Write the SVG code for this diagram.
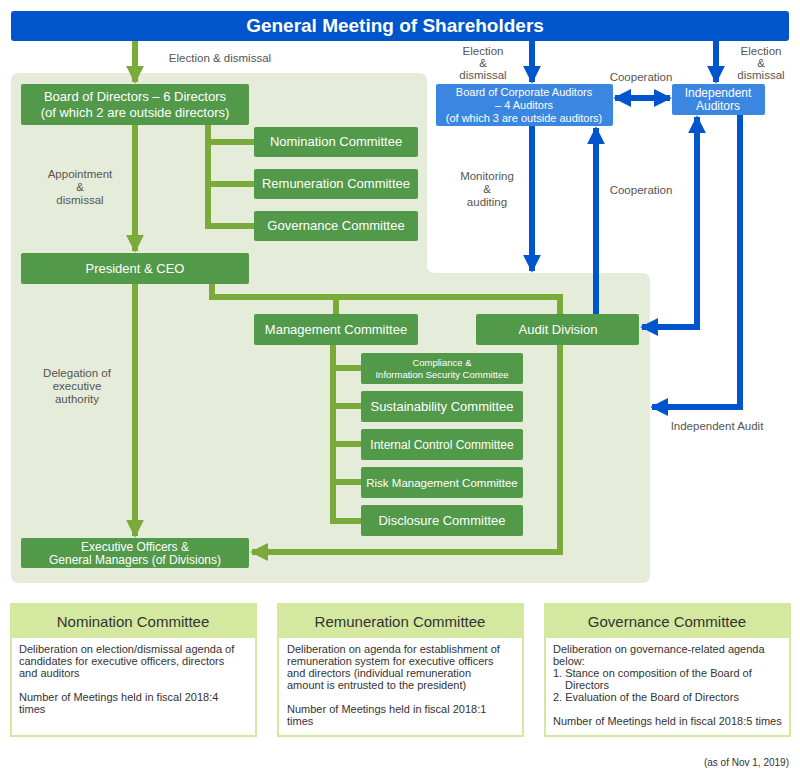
<svg xmlns="http://www.w3.org/2000/svg" width="800" height="780" viewBox="0 0 800 780">
<style>
text{font-family:"Liberation Sans",Arial,sans-serif}
.g rect{fill:#52994a}
.g text{fill:#fff;font-size:13px;text-anchor:middle}
.b rect{fill:#3b86e0}
.b text{fill:#fff;font-size:12px;text-anchor:middle}
.lbl{fill:#555;font-size:11.5px;text-anchor:middle}
.gl{stroke:#7aaa3a;stroke-width:6;fill:none}
.bl{stroke:#0055cc;stroke-width:6;fill:none}
.hd rect.h{fill:#d4e8a0}
.hd rect.o{fill:#fff;stroke:#d4e8a0;stroke-width:2}
.hd text.t{fill:#333;font-size:15px;text-anchor:middle}
.hd text.d{fill:#333;font-size:11px}
</style>
<defs>
<marker id="ga" viewBox="0 0 10 10" refX="9" refY="5" markerWidth="3" markerHeight="3" orient="auto-start-reverse"><path d="M0,0L10,5L0,10z" fill="#7aaa3a"/></marker>
<marker id="ba" viewBox="0 0 10 10" refX="9" refY="5" markerWidth="3" markerHeight="3" orient="auto-start-reverse"><path d="M0,0L10,5L0,10z" fill="#0055cc"/></marker>
</defs>
<path d="M11,81 Q11,73 19,73 L419,73 Q427,73 427,81 L427,265 Q427,273 435,273 L642,273 Q650,273 650,281 L650,575 Q650,583 642,583 L19,583 Q11,583 11,575 Z" fill="#e5ecd9"/>
<g id="gms"><rect x="11" y="11" width="778" height="30" rx="3" fill="#0055cc"/><text x="395" y="32" fill="#fff" font-size="19" font-weight="bold" text-anchor="middle">General Meeting of Shareholders</text></g>
<g id="connectors">
<path class="gl" d="M135,41V82" marker-end="url(#ga)"/>
<path class="gl" d="M135,125V251" marker-end="url(#ga)"/>
<path class="gl" d="M208,125V226H254M208,142H254M208,184H254"/>
<path class="gl" d="M212,284V297H560V314M336,297V314"/>
<path class="gl" d="M333,345V521H361M333,368H361M333,406H361M333,444H361M333,482H361"/>
<path class="gl" d="M135,284V536" marker-end="url(#ga)"/>
<path class="gl" d="M560,345V552H252" marker-end="url(#ga)"/>
<path class="bl" d="M532,41V82" marker-end="url(#ba)"/>
<path class="bl" d="M716,41V82" marker-end="url(#ba)"/>
<path class="bl" d="M532,126V271" marker-end="url(#ba)"/>
<path class="bl" d="M596,314V128" marker-end="url(#ba)"/>
<path class="bl" d="M615,98H670" marker-start="url(#ba)" marker-end="url(#ba)"/>
<path class="bl" d="M697,117V327H642" marker-start="url(#ba)" marker-end="url(#ba)"/>
<path class="bl" d="M740,115V407H652" marker-end="url(#ba)"/>
</g>
<g id="labels">
<text class="lbl" x="220" y="62">Election &amp; dismissal</text>
<text class="lbl" x="483" y="55">Election</text><text class="lbl" x="483" y="67">&amp;</text><text class="lbl" x="483" y="79">dismissal</text>
<text class="lbl" x="761" y="55">Election</text><text class="lbl" x="761" y="67">&amp;</text><text class="lbl" x="761" y="79">dismissal</text>
<text class="lbl" x="641" y="81">Cooperation</text>
<text class="lbl" x="641" y="194">Cooperation</text>
<text class="lbl" x="80" y="178">Appointment</text><text class="lbl" x="80" y="191">&amp;</text><text class="lbl" x="80" y="204">dismissal</text>
<text class="lbl" x="487" y="180">Monitoring</text><text class="lbl" x="487" y="193">&amp;</text><text class="lbl" x="487" y="206">auditing</text>
<text class="lbl" x="77" y="377">Delegation of</text><text class="lbl" x="77" y="390">executive</text><text class="lbl" x="77" y="403">authority</text>
<text class="lbl" x="717" y="430">Independent Audit</text>
</g>
<g id="bod" class="g"><rect x="21" y="84" width="228" height="41" rx="2"/><text x="135" y="101">Board of Directors – 6 Directors</text><text x="135" y="117">(of which 2 are outside directors)</text></g>
<g id="nom" class="g"><rect x="254" y="127" width="164" height="30" rx="2"/><text x="336" y="146">Nomination Committee</text></g>
<g id="rem" class="g"><rect x="254" y="169" width="164" height="30" rx="2"/><text x="336" y="188">Remuneration Committee</text></g>
<g id="gov" class="g"><rect x="254" y="211" width="164" height="30" rx="2"/><text x="336" y="230">Governance Committee</text></g>
<g id="ceo" class="g"><rect x="21" y="253" width="228" height="31" rx="2"/><text x="135" y="273" font-size="14">President &amp; CEO</text></g>
<g id="mgmt" class="g"><rect x="254" y="314" width="164" height="31" rx="2"/><text x="336" y="334">Management Committee</text></g>
<g id="audit" class="g"><rect x="476" y="314" width="163" height="31" rx="2"/><text x="558" y="334">Audit Division</text></g>
<g id="comp" class="g"><rect x="361" y="353" width="162" height="31" rx="2"/><text x="442" y="366" style="font-size:9.5px">Compliance &amp;</text><text x="442" y="378" style="font-size:9.5px">Information Security Committee</text></g>
<g id="sus" class="g"><rect x="361" y="391" width="162" height="31" rx="2"/><text x="442" y="411">Sustainability Committee</text></g>
<g id="ic" class="g"><rect x="361" y="429" width="162" height="31" rx="2"/><text x="442" y="449" style="font-size:12px">Internal Control Committee</text></g>
<g id="risk" class="g"><rect x="361" y="467" width="162" height="31" rx="2"/><text x="442" y="487" style="font-size:11.5px">Risk Management Committee</text></g>
<g id="disc" class="g"><rect x="361" y="505" width="162" height="31" rx="2"/><text x="442" y="525">Disclosure Committee</text></g>
<g id="exec" class="g"><rect x="21" y="538" width="228" height="30" rx="2"/><text x="135" y="551" style="font-size:12px">Executive Officers &amp;</text><text x="135" y="564" style="font-size:12px">General Managers (of Divisions)</text></g>
<g id="bca" class="b"><rect x="436" y="84" width="177" height="42" rx="2"/><text x="524" y="96" style="font-size:11px">Board of Corporate Auditors</text><text x="524" y="109" style="font-size:11px">– 4 Auditors</text><text x="524" y="122" style="font-size:11px">(of which 3 are outside auditors)</text></g>
<g id="ia" class="b"><rect x="672" y="84" width="93" height="31" rx="2"/><text x="718" y="97">Independent</text><text x="718" y="110">Auditors</text></g>
<g id="box-nom" class="hd"><rect class="o" x="11" y="604" width="245" height="132"/><rect class="h" x="11" y="604" width="245" height="34"/><text class="t" x="133" y="627">Nomination Committee</text>
<text class="d" x="19" y="653">Deliberation on election/dismissal agenda of</text><text class="d" x="19" y="665">candidates for executive officers, directors</text><text class="d" x="19" y="677">and auditors</text><text class="d" x="19" y="701">Number of Meetings held in fiscal 2018:4</text><text class="d" x="19" y="713">times</text></g>
<g id="box-rem" class="hd"><rect class="o" x="278" y="604" width="245" height="132"/><rect class="h" x="278" y="604" width="245" height="34"/><text class="t" x="400" y="627">Remuneration Committee</text>
<text class="d" x="287" y="653">Deliberation on agenda for establishment of</text><text class="d" x="287" y="665">remuneration system for executive officers</text><text class="d" x="287" y="677">and directors (individual remuneration</text><text class="d" x="287" y="689">amount is entrusted to the president)</text><text class="d" x="287" y="713">Number of Meetings held in fiscal 2018:1</text><text class="d" x="287" y="725">times</text></g>
<g id="box-gov" class="hd"><rect class="o" x="545" y="604" width="245" height="132"/><rect class="h" x="545" y="604" width="245" height="34"/><text class="t" x="667" y="627">Governance Committee</text>
<text class="d" x="553" y="653">Deliberation on governance-related agenda</text><text class="d" x="553" y="665">below:</text><text class="d" x="553" y="677">1. Stance on composition of the Board of</text><text class="d" x="565" y="689">Directors</text><text class="d" x="553" y="701">2. Evaluation of the Board of Directors</text><text class="d" x="553" y="725">Number of Meetings held in fiscal 2018:5 times</text></g>
<text x="789" y="766" font-size="10" fill="#333" text-anchor="end">(as of Nov 1, 2019)</text>
</svg>
